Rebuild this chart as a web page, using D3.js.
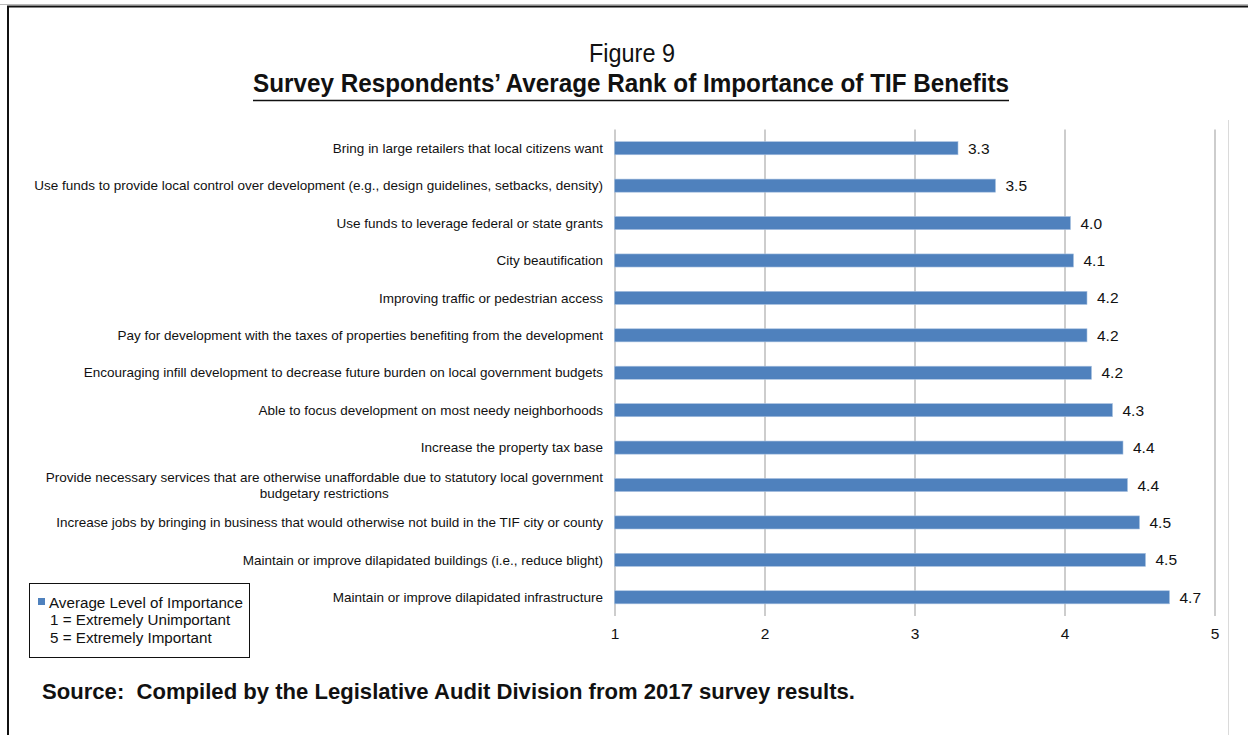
<!DOCTYPE html>
<html>
<head>
<meta charset="utf-8">
<script src="https://cdn.jsdelivr.net/npm/d3@7"></script>
<style>
  html, body { margin: 0; padding: 0; background: #fff; }
  svg { display: block; }
  text { font-family: "Liberation Sans", Arial, Helvetica, sans-serif; fill: #111; }
  .narrow { font-family: "Liberation Sans Narrow", "Arial Narrow", "Liberation Sans", Arial, sans-serif; }
  .pre { white-space: pre; }
</style>
</head>
<body>
<svg id="chart" width="1248" height="735"></svg>
<script>
// Benefits, listed top to bottom as ranked in the survey
const categories = [
  "Bring in large retailers that local citizens want",
  "Use funds to provide local control over development (e.g., design guidelines, setbacks, density)",
  "Use funds to leverage federal or state grants",
  "City beautification",
  "Improving traffic or pedestrian access",
  "Pay for development with the taxes of properties benefiting from the development",
  "Encouraging infill development to decrease future burden on local government budgets",
  "Able to focus development on most needy neighborhoods",
  "Increase the property tax base",
  "Provide necessary services that are otherwise unaffordable due to statutory local government|budgetary restrictions",
  "Increase jobs by bringing in business that would otherwise not build in the TIF city or county",
  "Maintain or improve dilapidated buildings (i.e., reduce blight)",
  "Maintain or improve dilapidated infrastructure"
];

// Average level of importance (1 = extremely unimportant, 5 = extremely important)
const averageImportance = [3.29, 3.54, 4.04, 4.06, 4.15, 4.15, 4.18, 4.32, 4.39, 4.42, 4.50, 4.54, 4.70];

const xTicks = [1, 2, 3, 4, 5];

const figureLabel = "Figure 9";
const titleText = "Survey Respondents\u2019 Average Rank of Importance of TIF Benefits";
const sourceText = "Source:  Compiled by the Legislative Audit Division from 2017 survey results.";
const legendLines = ["Average Level of Importance", "1 = Extremely Unimportant", "5 = Extremely Important"];

const barColor = "#4f81bd";
const gridColor = "#acacac";

const svg = d3.select("#chart");
const W = 1248, H = 735;

// Page frame
svg.append("line").attr("x1", 0).attr("x2", W).attr("y1", 4.5).attr("y2", 4.5)
  .attr("stroke", "#b8b8b8").attr("stroke-width", 1);
svg.append("path").attr("d", `M8,${H + 2} V6.5 H${W + 2}`)
  .attr("fill", "none").attr("stroke", "#111").attr("stroke-width", 2);

// Chart-area edge on the right
svg.append("line").attr("x1", 1228.5).attr("x2", 1228.5).attr("y1", 120).attr("y2", H)
  .attr("stroke", "#dadada").attr("stroke-width", 1);

// Titles
svg.append("text").attr("class", "narrow")
  .attr("x", 632).attr("y", 61.5).attr("text-anchor", "middle")
  .attr("font-size", 25.5).attr("textLength", 86).attr("lengthAdjust", "spacingAndGlyphs")
  .text(figureLabel);

svg.append("text").attr("class", "narrow")
  .attr("x", 631).attr("y", 92).attr("text-anchor", "middle")
  .attr("font-size", 25.5).attr("font-weight", "bold")
  .attr("textLength", 756).attr("lengthAdjust", "spacingAndGlyphs")
  .text(titleText);
svg.append("line").attr("x1", 253).attr("x2", 1009).attr("y1", 100.5).attr("y2", 100.5)
  .attr("stroke", "#111").attr("stroke-width", 1.6);

// Plot area
const plot = { left: 614.5, right: 1214.5, top: 129.5, bottom: 616 };

const x = d3.scaleLinear().domain([1, 5]).range([plot.left, plot.right]);
const y = d3.scaleBand().domain(categories).range([plot.top, plot.bottom])
  .paddingInner(0.65).paddingOuter(0.325);

// Vertical gridlines
const grid = svg.append("g").attr("transform", `translate(0,${plot.bottom})`)
  .call(d3.axisBottom(x).tickValues(xTicks).tickSize(-(plot.bottom - plot.top)).tickFormat(""));
grid.select(".domain").remove();
grid.selectAll(".tick line").attr("stroke", gridColor).attr("stroke-width", 1.2);

// Tick labels
const axis = svg.append("g").attr("transform", `translate(0,${plot.bottom})`)
  .call(d3.axisBottom(x).tickValues(xTicks).tickSize(0).tickPadding(12).tickFormat(d3.format("d")));
axis.select(".domain").remove();
axis.selectAll(".tick text").attr("font-size", 15.5)
  .attr("font-family", "'Liberation Sans', Arial, sans-serif").attr("fill", "#111");

// Bars
const rows = categories.map((c, i) => ({ cat: c, value: averageImportance[i] }));

svg.append("g").selectAll("rect").data(rows).join("rect")
  .attr("x", x(1))
  .attr("y", d => y(d.cat))
  .attr("width", d => x(d.value) - x(1))
  .attr("height", y.bandwidth())
  .attr("fill", barColor)
  .attr("stroke", "#a9c1e0").attr("stroke-width", 0.6);

// Value labels
svg.append("g").selectAll("text").data(rows).join("text")
  .attr("x", d => x(d.value) + 10)
  .attr("y", d => y(d.cat) + y.bandwidth() / 2)
  .attr("dy", "0.36em")
  .attr("font-size", 15.5)
  .text(d => d.value.toFixed(1));

// Category labels (a "|" splits a label into two centred lines)
const labelX = 603;
const labelSize = 13.5;
const labels = svg.append("g").selectAll("g").data(rows).join("g");
labels.each(function (d) {
  const g = d3.select(this);
  const parts = d.cat.split("|");
  const cy = y(d.cat) + y.bandwidth() / 2;
  if (parts.length === 1) {
    g.append("text").attr("x", labelX).attr("y", cy).attr("dy", "0.35em")
      .attr("text-anchor", "end").attr("font-size", labelSize).text(parts[0]);
  } else {
    const first = g.append("text").attr("x", labelX).attr("y", cy - 7.5).attr("dy", "0.35em")
      .attr("text-anchor", "end").attr("font-size", labelSize).text(parts[0]);
    const w = first.node().getComputedTextLength();
    g.append("text").attr("x", labelX - w / 2).attr("y", cy + 8.5).attr("dy", "0.35em")
      .attr("text-anchor", "middle").attr("font-size", labelSize).text(parts[1]);
  }
});

// Legend
const legend = svg.append("g").attr("transform", "translate(29,583)");
legend.append("rect").attr("x", 0.5).attr("y", 0.5).attr("width", 220).attr("height", 74)
  .attr("fill", "#fff").attr("stroke", "#111").attr("stroke-width", 1);
legend.append("rect").attr("x", 9).attr("y", 15).attr("width", 7).attr("height", 7).attr("fill", barColor);
legend.selectAll("text.leg").data(legendLines).join("text").attr("class", "leg")
  .attr("x", (d, i) => i === 0 ? 20 : 21)
  .attr("y", (d, i) => 24.5 + i * 17.7)
  .attr("font-size", 15.2)
  .text(d => d);

// Source note
svg.append("text").attr("class", "narrow pre")
  .attr("x", 42).attr("y", 698.5)
  .attr("font-size", 22.5).attr("font-weight", "bold")
  .attr("textLength", 813).attr("lengthAdjust", "spacingAndGlyphs")
  .text(sourceText);
</script>
</body>
</html>
